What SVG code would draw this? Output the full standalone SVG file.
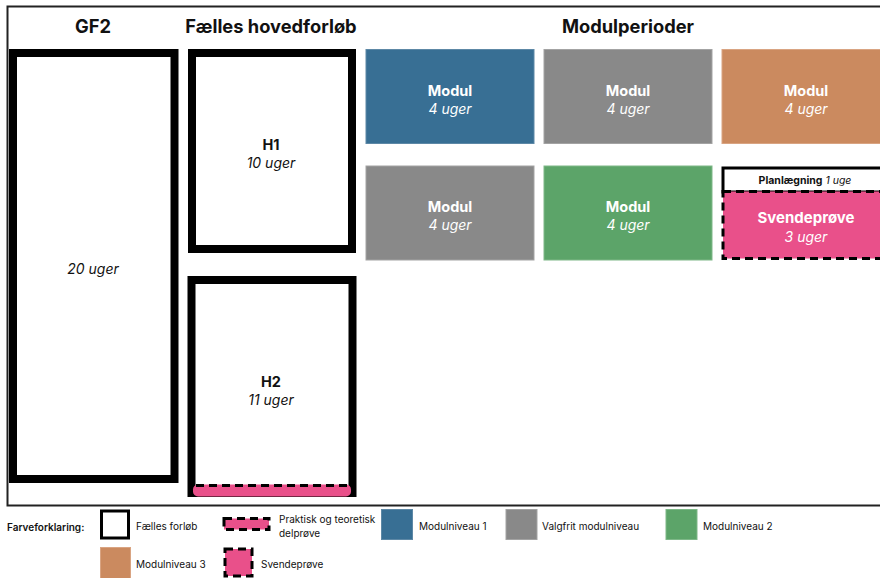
<svg xmlns="http://www.w3.org/2000/svg" width="880" height="578" viewBox="0 0 880 578">
  <style>
    text { font-family: Inter, "Liberation Sans", sans-serif; }
    .head { font-size: 18.3px; font-weight: 700; fill: #111; text-anchor: middle; }
    .frame { fill: #fff; stroke: #000; stroke-width: 8; }
    .title { font-size: 14.5px; font-weight: 700; text-anchor: middle; }
    .dur { font-size: 14px; font-style: italic; text-anchor: middle; }
    .dark { fill: #111; }
    .light { fill: #fff; }
    .mod { stroke-width: 1; }
    .blue { fill: #386F94; stroke: #5D88A6; }
    .gray { fill: #898989; stroke: #a3a3a3; }
    .orange { fill: #CB8A5F; stroke: #d9a482; }
    .green { fill: #5CA469; stroke: #7eb888; }
    .pink { fill: #E9508A; }
    .dash { stroke: #000; stroke-width: 3; stroke-dasharray: 8 5; }
    .leg { font-size: 10px; fill: #111; }
  </style>

  <!-- outer frame -->
  <rect x="7.5" y="6.5" width="880" height="499" fill="#fff" stroke="#222" stroke-width="2"/>

  <!-- column headings -->
  <text class="head" x="93" y="33">GF2</text>
  <text class="head" x="271" y="33">Fælles hovedforløb</text>
  <text class="head" x="628" y="33">Modulperioder</text>

  <g id="gf2">
    <rect class="frame" x="13" y="53" width="161.5" height="426"/>
    <text class="dur dark" x="93" y="274">20 uger</text>
  </g>

  <g id="h1">
    <rect class="frame" x="192" y="53" width="160" height="196"/>
    <text class="title dark" x="271" y="150">H1</text>
    <text class="dur dark" x="271" y="168">10 uger</text>
  </g>

  <g id="h2">
    <rect class="frame" x="191.5" y="280" width="161" height="213"/>
    <text class="title dark" x="271" y="387">H2</text>
    <text class="dur dark" x="271" y="405">11 uger</text>
    <rect class="pink" x="193" y="484.5" width="158" height="12" rx="5"/>
    <line class="dash" x1="196" y1="485.5" x2="349" y2="485.5"/>
  </g>

  <g id="modul-1">
    <rect class="mod blue" x="366" y="49.5" width="168" height="94"/>
    <text class="title light" x="450" y="96">Modul</text>
    <text class="dur light" x="450" y="114">4 uger</text>
  </g>
  <g id="modul-2">
    <rect class="mod gray" x="544" y="49.5" width="168" height="94"/>
    <text class="title light" x="628" y="96">Modul</text>
    <text class="dur light" x="628" y="114">4 uger</text>
  </g>
  <g id="modul-3">
    <rect class="mod orange" x="722" y="49.5" width="170" height="94"/>
    <text class="title light" x="806" y="96">Modul</text>
    <text class="dur light" x="806" y="114">4 uger</text>
  </g>
  <g id="modul-4">
    <rect class="mod gray" x="366" y="166" width="168" height="94"/>
    <text class="title light" x="450" y="212">Modul</text>
    <text class="dur light" x="450" y="230">4 uger</text>
  </g>
  <g id="modul-5">
    <rect class="mod green" x="544" y="166" width="168" height="94"/>
    <text class="title light" x="628" y="212">Modul</text>
    <text class="dur light" x="628" y="230">4 uger</text>
  </g>

  <g id="planlaegning">
    <rect x="723" y="168" width="170" height="24" fill="#fff" stroke="#000" stroke-width="3"/>
    <text x="805" y="184" font-size="10.5" fill="#111" text-anchor="middle"><tspan font-weight="700">Planlægning</tspan> <tspan font-style="italic">1 uge</tspan></text>
  </g>

  <g id="svendeproeve">
    <rect class="pink dash" x="723" y="191.5" width="170" height="67"/>
    <text class="light" x="806" y="223" font-size="15" font-weight="700" text-anchor="middle">Svendeprøve</text>
    <text class="dur light" x="806" y="242">3 uger</text>
  </g>

  <!-- legend -->
  <g id="legend">
    <text x="7" y="531" font-size="10" font-weight="600" fill="#111">Farveforklaring:</text>

    <rect x="101.5" y="511" width="27" height="27" fill="#fff" stroke="#000" stroke-width="3"/>
    <text class="leg" x="136" y="530">Fælles forløb</text>

    <rect class="pink" x="224" y="518.5" width="45" height="11"/>
    <rect x="224" y="518.5" width="45" height="11" fill="none" class="dash"/>
    <text class="leg" x="279" y="523">Praktisk og teoretisk</text>
    <text class="leg" x="279" y="537">delprøve</text>

    <rect class="blue" x="381.5" y="509.5" width="31" height="30"/>
    <text class="leg" x="419" y="530">Modulniveau 1</text>

    <rect class="gray" x="506" y="509.5" width="31" height="30"/>
    <text class="leg" x="542" y="530">Valgfrit modulniveau</text>

    <rect class="green" x="666" y="509.5" width="31" height="30"/>
    <text class="leg" x="703" y="530">Modulniveau 2</text>

    <rect class="orange" x="100.5" y="547.5" width="30" height="31"/>
    <text class="leg" x="136" y="568">Modulniveau 3</text>

    <rect class="pink dash" x="225" y="549" width="27" height="27"/>
    <text class="leg" x="261" y="568">Svendeprøve</text>
  </g>
</svg>
